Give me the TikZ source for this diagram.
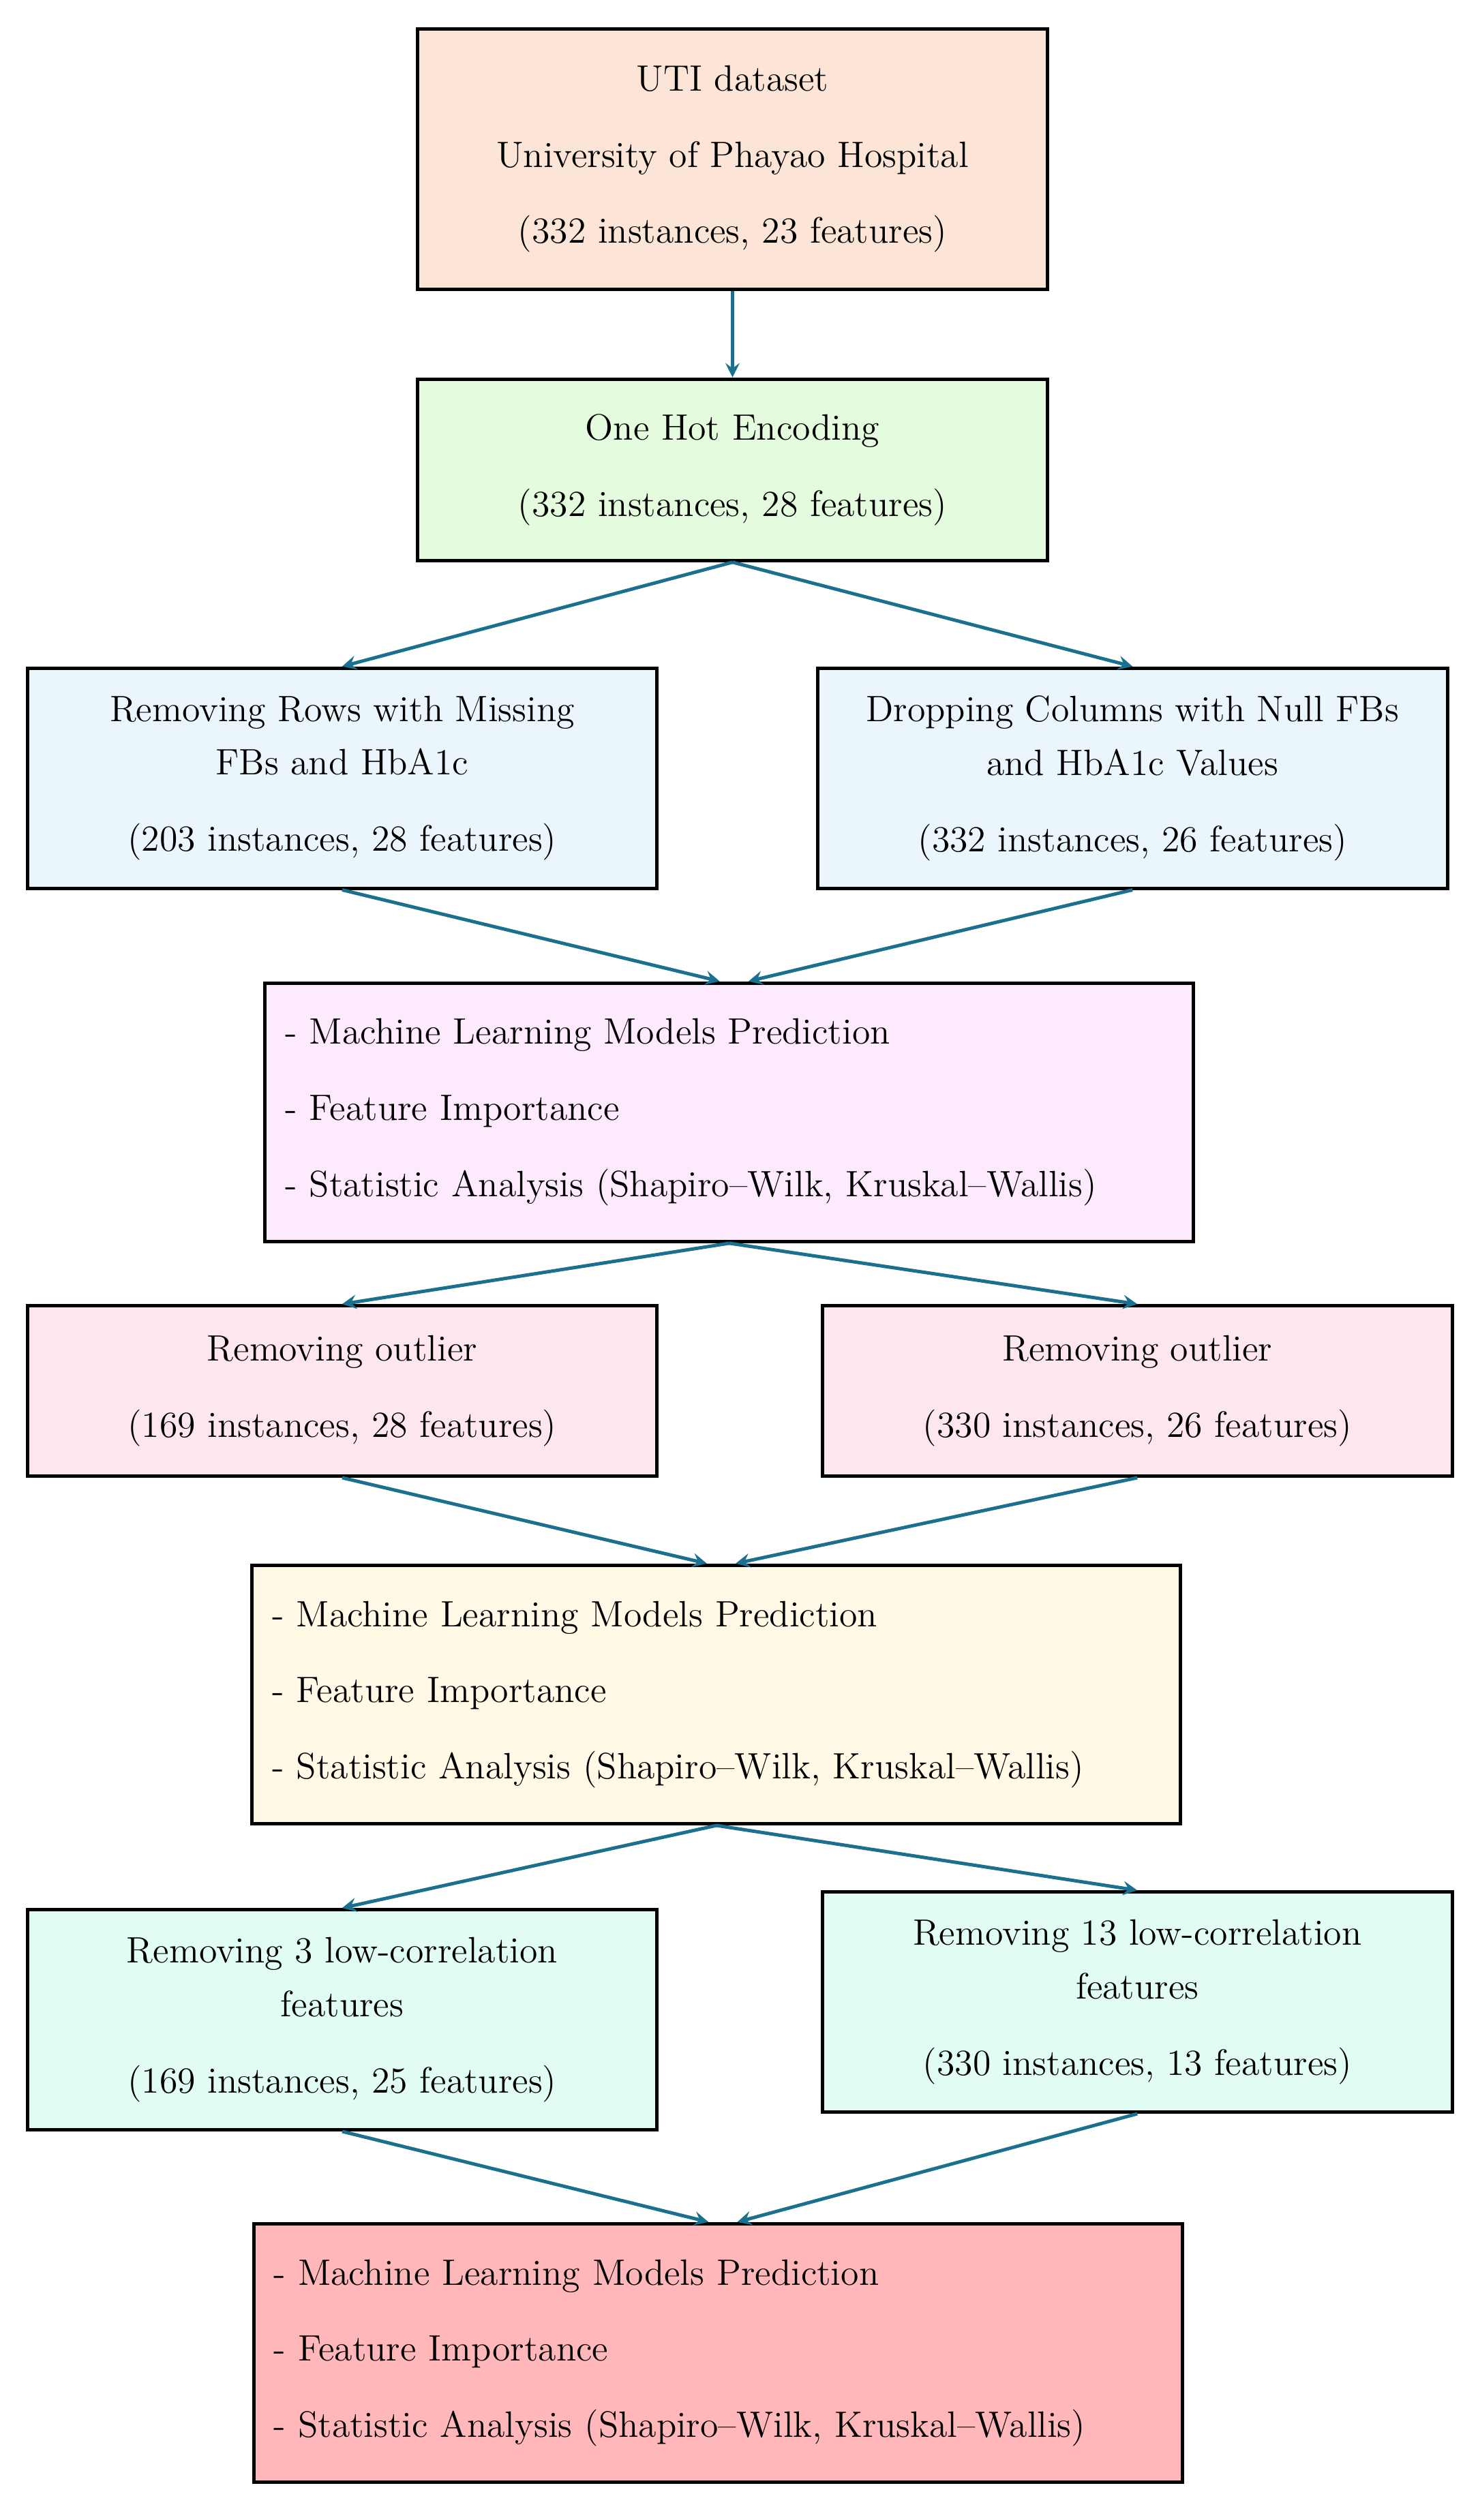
\documentclass[tikz,border=0pt]{standalone}
\usepackage{tikz}
\definecolor{cUTI}{HTML}{FCE4D6}
\definecolor{cHot}{HTML}{E4FBDE}
\definecolor{cDrop}{HTML}{EAF5FC}
\definecolor{cMLa}{HTML}{FDEAFD}
\definecolor{cOut}{HTML}{FDE6EE}
\definecolor{cMLb}{HTML}{FFF9E6}
\definecolor{cCorr}{HTML}{E0FCF3}
\definecolor{cMLc}{HTML}{FFB7B9}
\definecolor{cArr}{HTML}{1B6F8F}
\tikzset{
  box/.style={draw, line width=1.2pt, align=center, font=\fontsize{13}{19}\selectfont, inner sep=0pt},
  stage/.style={box, minimum width=7.84cm},
  model/.style={box, text width=11.06cm, inner xsep=0.25cm, minimum height=3.22cm, align=left},
  flow/.style={->, >=stealth, line width=1.2pt, color=cArr}
}
\begin{document}
\begin{tikzpicture}
\useasboundingbox (0,0) rectangle (18.4,-31.38);
\node [stage, minimum height=3.24cm, fill=cUTI] (uti) at (9.12,-1.98) {UTI dataset\\[8pt] University of Phayao Hospital\\[8pt] (332 instances, 23 features)};
\node [stage, minimum height=2.26cm, fill=cHot] (hot) at (9.12,-5.85) {One Hot Encoding\\[8pt] (332 instances, 28 features)};
\node [stage, minimum height=2.74cm, fill=cDrop] (rows) at (4.26,-9.69) {Removing Rows with Missing\\ FBs and HbA1c\\[8pt] (203 instances, 28 features)};
\node [stage, minimum height=2.74cm, fill=cDrop] (cols) at (14.10,-9.69) {Dropping Columns with Null FBs\\ and HbA1c Values\\[8pt] (332 instances, 26 features)};
\node [model, fill=cMLa] (mla) at (9.08,-13.85) {- Machine Learning Models Prediction\\[8pt] - Feature Importance\\[8pt] - Statistic Analysis (Shapiro--Wilk, Kruskal--Wallis)};
\node [stage, minimum height=2.12cm, fill=cOut] (outa) at (4.26,-17.32) {Removing outlier\\[8pt] (169 instances, 28 features)};
\node [stage, minimum height=2.12cm, fill=cOut] (outb) at (14.16,-17.32) {Removing outlier\\[8pt] (330 instances, 26 features)};
\node [model, fill=cMLb] (mlb) at (8.92,-21.10) {- Machine Learning Models Prediction\\[8pt] - Feature Importance\\[8pt] - Statistic Analysis (Shapiro--Wilk, Kruskal--Wallis)};
\node [stage, minimum height=2.74cm, fill=cCorr] (corra) at (4.26,-25.15) {Removing 3 low-correlation\\ features\\[8pt] (169 instances, 25 features)};
\node [stage, minimum height=2.74cm, fill=cCorr] (corrb) at (14.16,-24.93) {Removing 13 low-correlation\\ features\\[8pt] (330 instances, 13 features)};
\node [model, fill=cMLc] (mlc) at (8.94,-29.30) {- Machine Learning Models Prediction\\[8pt] - Feature Importance\\[8pt] - Statistic Analysis (Shapiro--Wilk, Kruskal--Wallis)};
% connectors
\draw [flow] (uti) -- (hot);
\draw [flow] (hot.south) -- (rows.north);
\draw [flow] (hot.south) -- (cols.north);
\draw [flow] (rows.south) -- ([xshift=-0.12cm]mla.north);
\draw [flow] (cols.south) -- ([xshift=0.24cm]mla.north);
\draw [flow] (mla.south) -- (outa.north);
\draw [flow] (mla.south) -- (outb.north);
\draw [flow] (outa.south) -- ([xshift=-0.12cm]mlb.north);
\draw [flow] (outb.south) -- ([xshift=0.24cm]mlb.north);
\draw [flow] (mlb.south) -- (corra.north);
\draw [flow] (mlb.south) -- (corrb.north);
\draw [flow] (corra.south) -- ([xshift=-0.12cm]mlc.north);
\draw [flow] (corrb.south) -- ([xshift=0.24cm]mlc.north);
\end{tikzpicture}
\end{document}
